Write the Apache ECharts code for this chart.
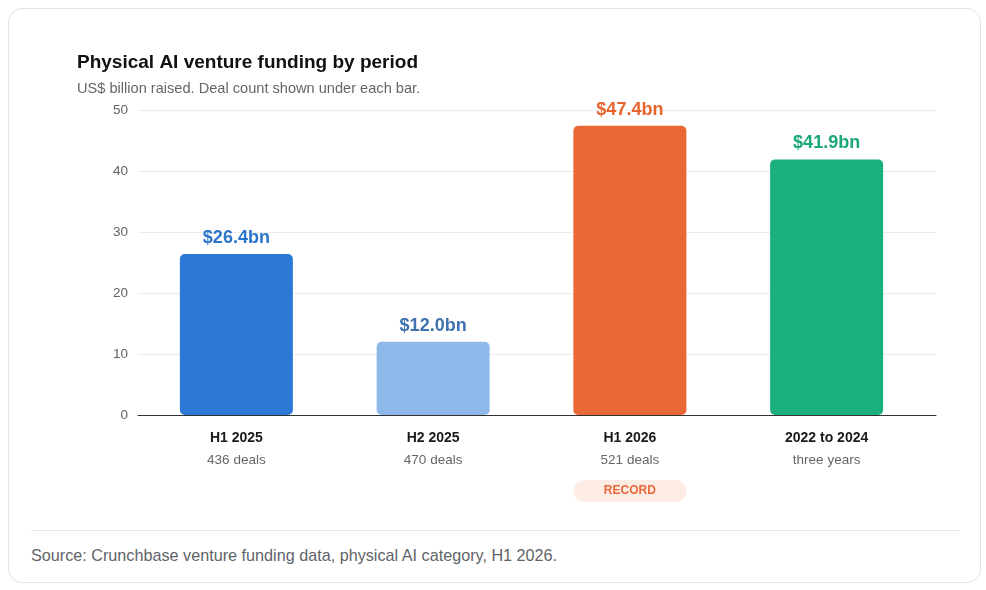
<!DOCTYPE html>
<html>
<head>
<meta charset="utf-8">
<script src="https://cdn.jsdelivr.net/npm/echarts@6/dist/echarts.min.js"></script>
<style>
    body { margin: 0; background: #fff; font-family: "Liberation Sans", Arial, sans-serif; }
    .card {
        position: absolute; left: 8px; top: 8px; width: 971px; height: 573px;
        border: 1px solid #e4e4e4; border-radius: 14px; background: #fff;
    }
    .sep { position: absolute; left: 31px; top: 530px; width: 928px; height: 1px; background: #e6e6e6; }
    .source { position: absolute; left: 31px; top: 546px; font-size: 16.2px; color: #5f6368; }
    #chart { position: absolute; left: 0; top: 0; width: 986px; height: 590px; }
</style>
</head>
<body>
<div class="card"></div>
<div class="sep"></div>
<div class="source">Source: Crunchbase venture funding data, physical AI category, H1 2026.</div>
<div id="chart"></div>
<script>
// 数据
var periods = ['H1 2025', 'H2 2025', 'H1 2026', '2022 to 2024'];
var subLabels = ['436 deals', '470 deals', '521 deals', 'three years'];
var funding = [26.4, 12.0, 47.4, 41.9];
var recordPeriod = 'H1 2026';
var yTicks = [0, 10, 20, 30, 40, 50];

// 颜色
var barColors = ['#2b78d6', '#8fb8ea', '#ea6835', '#1baf7b'];
var labelColors = ['#2b74cc', '#3f72b0', '#e8642f', '#1aa874'];

var chart = echarts.init(document.getElementById('chart'));

var barData = funding.map(function (v, i) {
    return {
        value: v,
        itemStyle: { color: barColors[i] },
        label: { color: labelColors[i] }
    };
});

var option = {
    textStyle: { fontFamily: '"Liberation Sans", Arial, sans-serif' },
    title: {
        text: 'Physical AI venture funding by period',
        subtext: 'US$ billion raised. Deal count shown under each bar.',
        left: 72,
        top: 48,
        itemGap: 9,
        textStyle: { fontSize: 19, fontWeight: 'bold', color: '#111' },
        subtextStyle: { fontSize: 14.6, color: '#666' }
    },
    grid: [
        { left: 138, right: 50, top: 110, bottom: 175 },
        { left: 138, right: 61, top: 110, bottom: 175 }
    ],
    xAxis: [{
        type: 'category',
        gridIndex: 0,
        data: periods,
        axisLine: { lineStyle: { color: '#333', width: 1 } },
        axisTick: { show: false },
        axisLabel: { show: false }
    }, {
        type: 'category',
        gridIndex: 1,
        data: periods,
        axisLine: { show: false },
        axisTick: { show: false },
        axisLabel: {
            margin: 12,
            formatter: function (name, idx) {
                var s = '{name|' + name + '}\n{sub|' + subLabels[idx] + '}';
                if (name === recordPeriod) s += '\n{pill|RECORD}{sp|}';
                return s;
            },
            rich: {
                name: { fontSize: 14, fontWeight: 'bold', color: '#1a1a1a', lineHeight: 22 },
                sub: { fontSize: 13.5, color: '#666', lineHeight: 22 },
                pill: {
                    fontSize: 12, fontWeight: 'bold', color: '#e8693a',
                    backgroundColor: '#fdece4', borderRadius: 11,
                    width: 113, height: 22, align: 'center'
                },
                sp: { lineHeight: 40, fontSize: 1 }
            }
        }
    }],
    yAxis: [{
        type: 'value',
        gridIndex: 0,
        min: yTicks[0],
        max: yTicks[yTicks.length - 1],
        interval: 10,
        axisLine: { show: false },
        axisTick: { show: false },
        axisLabel: { margin: 10, fontSize: 13.5, color: '#5f6368' },
        splitLine: { lineStyle: { color: '#ebebeb' } }
    }, {
        type: 'value',
        gridIndex: 1,
        min: yTicks[0],
        max: yTicks[yTicks.length - 1],
        interval: 10,
        show: false,
        splitLine: { show: false }
    }],
    series: [{
        type: 'bar',
        xAxisIndex: 1,
        yAxisIndex: 1,
        barWidth: 113,
        data: barData,
        itemStyle: { borderRadius: 5 },
        label: {
            show: true,
            position: 'top',
            distance: 7,
            fontSize: 18,
            fontWeight: 'bold',
            formatter: function (p) { return '$' + p.value.toFixed(1) + 'bn'; }
        }
    }]
};

chart.setOption(option);
</script>
</body>
</html>
